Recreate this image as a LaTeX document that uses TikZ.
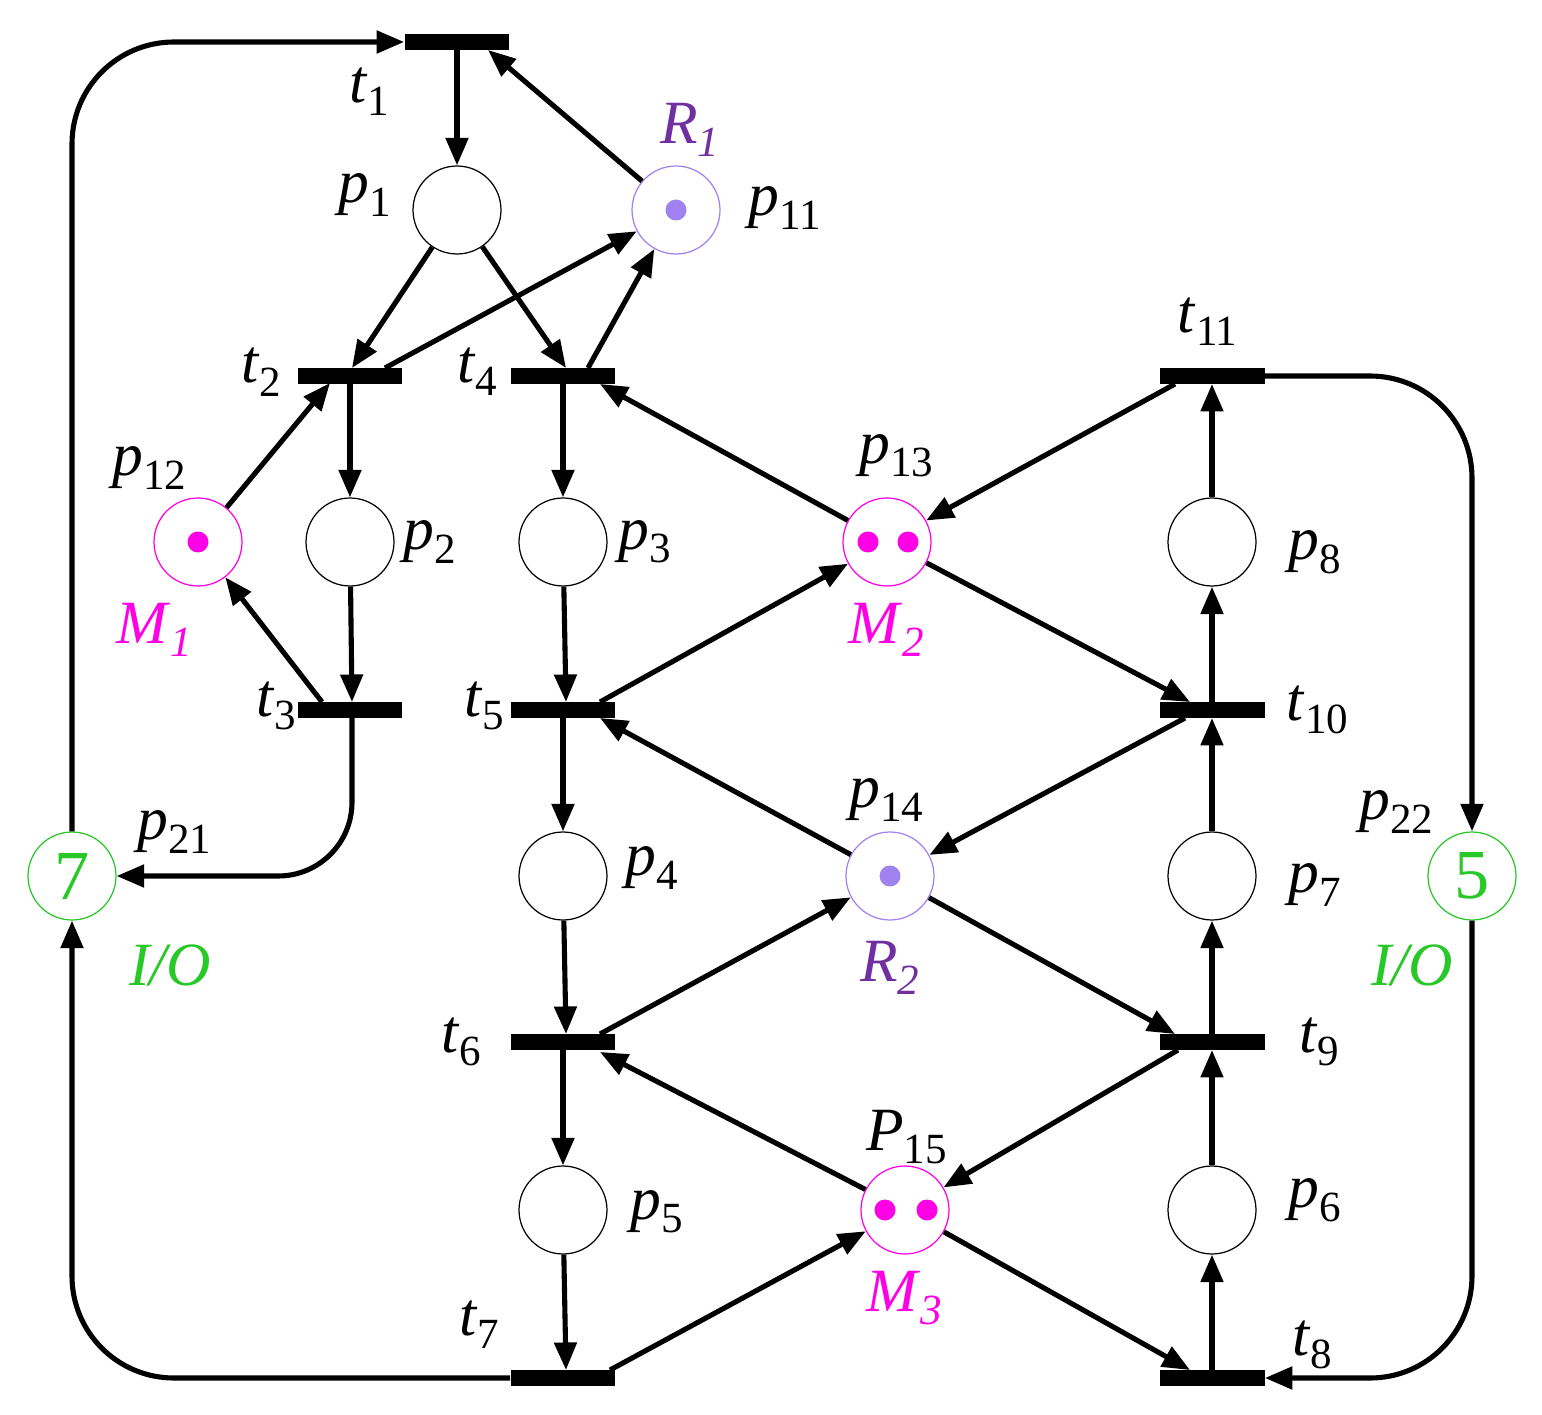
\documentclass[tikz,border=0pt]{standalone}
\usepackage{fontspec}
\setmainfont{Liberation Serif}
\usetikzlibrary{arrows.meta}
\definecolor{mag}{RGB}{255,0,230}
\definecolor{pur}{RGB}{112,48,160}
\definecolor{lpur}{RGB}{160,130,240}
\definecolor{grn}{RGB}{40,200,40}
\newcommand{\lb}[2]{\textit{#1}\textsubscript{\upshape #2}}
\begin{document}
\begin{tikzpicture}[x=0.02cm,y=-0.02cm,
 pl/.style={circle,draw,minimum size=1.76cm,inner sep=0pt,line width=0.7pt},
 tr/.style={rectangle,fill=black,minimum width=2.1cm,minimum height=0.32cm,inner sep=0pt},
 arc/.style={line width=2.9pt,-{Triangle[length=0.55cm,width=0.44cm]}},
 tok/.style={circle,fill,inner sep=0pt,minimum size=0.42cm},
 lab/.style={font=\fontsize{35}{37}\selectfont,inner sep=0pt}]
\useasboundingbox (0,0) rectangle (1542,1415);
% places
\node[pl] (p1) at (457,210) {};
\node[pl,draw=lpur] (p11) at (676,210) {};
\node[tok,lpur] at (676,210) {};
\node[pl,draw=mag] (p12) at (198,542) {};
\node[tok,mag] at (198,542) {};
\node[pl] (p2) at (350,542) {};
\node[pl] (p3) at (563,542) {};
\node[pl,draw=mag] (p13) at (887,542) {};
\node[tok,mag] at (868,542) {}; \node[tok,mag] at (908,542) {};
\node[pl] (p8) at (1212,542) {};
\node[pl,draw=grn,text=grn,font=\fontsize{40}{42}\selectfont] (p21) at (72,876) {7};
\node[pl] (p4) at (563,876) {};
\node[pl,draw=lpur] (p14) at (890,876) {};
\node[tok,lpur] at (890,876) {};
\node[pl] (p7) at (1212,876) {};
\node[pl,draw=grn,text=grn,font=\fontsize{40}{42}\selectfont] (p22) at (1472,876) {5};
\node[pl] (p5) at (563,1210) {};
\node[pl,draw=mag] (p15) at (905,1210) {};
\node[tok,mag] at (885,1210) {}; \node[tok,mag] at (927,1210) {};
\node[pl] (p6) at (1212,1210) {};
% transitions
\node[tr] (t1) at (457,42) {};
\node[tr] (t2) at (350,376) {};
\node[tr] (t4) at (563,376) {};
\node[tr] (t11) at (1212,376) {};
\node[tr] (t3) at (350,710) {};
\node[tr] (t5) at (563,710) {};
\node[tr] (t10) at (1212,710) {};
\node[tr] (t6) at (563,1042) {};
\node[tr] (t9) at (1212,1042) {};
\node[tr] (t7) at (563,1378) {};
\node[tr] (t8) at (1212,1378) {};
% arcs
\draw[arc] (t1) -- (p1);
\draw[arc] (p11) -- (488,50);
\draw[arc] (p1) -- (352,368);
\draw[arc] (p1) -- (566,368);
\draw[arc] (385,368) -- (p11);
\draw[arc] (588,368) -- (p11);
\draw[arc] (t2) -- (p2);
\draw[arc] (p12) -- (330,383);
\draw[arc] (322,702) -- (p12);
\draw[arc] (p2) -- (352,702);
\draw[arc,rounded corners=42pt] (352,718) -- (352,876) -- (p21.east);
\draw[arc,rounded corners=58pt] (p21.north) -- (72,42) -- (t1.west);
\draw[arc,rounded corners=58pt] (t7.west) -- (72,1378) -- (p21.south);
\draw[arc] (t4) -- (p3);
\draw[arc] (p3) -- (566,702);
\draw[arc] (t5) -- (p4);
\draw[arc] (p4) -- (566,1034);
\draw[arc] (t6) -- (p5);
\draw[arc] (p5) -- (566,1370);
\draw[arc] (p13) -- (600,384);
\draw[arc] (600,702) -- (p13);
\draw[arc] (p13) -- (1190,702);
\draw[arc] (1185,718) -- (p14);
\draw[arc] (p14) -- (600,718);
\draw[arc] (600,1034) -- (p14);
\draw[arc] (p14) -- (1175,1034);
\draw[arc] (1178,1050) -- (p15);
\draw[arc] (p15) -- (600,1052);
\draw[arc] (610,1370) -- (p15);
\draw[arc] (p15) -- (1190,1370);
\draw[arc] (1175,384) -- (p13);
\draw[arc] (p8) -- (1212,384);
\draw[arc] (1212,702) -- (p8);
\draw[arc] (p7) -- (1212,718);
\draw[arc] (1212,1034) -- (p7);
\draw[arc] (p6) -- (1212,1050);
\draw[arc] (1212,1370) -- (p6);
\draw[arc,rounded corners=58pt] (t11.east) -- (1472,376) -- (p22.north);
\draw[arc,rounded corners=58pt] (p22.south) -- (1472,1378) -- (t8.east);
% labels
\node[lab] at (370,92) {\lb{t}{1}};
\node[lab] at (365,195) {\lb{p}{1}};
\node[lab,text=pur] at (690,130) {\textit{R}\textsubscript{\textit{1}}};
\node[lab] at (785,208) {\lb{p}{11}};
\node[lab] at (262,372) {\lb{t}{2}};
\node[lab] at (478,372) {\lb{t}{4}};
\node[lab] at (1208,322) {\lb{t}{11}};
\node[lab] at (150,468) {\lb{p}{12}};
\node[lab] at (430,542) {\lb{p}{2}};
\node[lab] at (645,542) {\lb{p}{3}};
\node[lab] at (897,456) {\lb{p}{13}};
\node[lab] at (1315,552) {\lb{p}{8}};
\node[lab,text=mag] at (155,630) {\textit{M}\textsubscript{\textit{1}}};
\node[lab,text=mag] at (887,630) {\textit{M}\textsubscript{\textit{2}}};
\node[lab] at (277,706) {\lb{t}{3}};
\node[lab] at (485,706) {\lb{t}{5}};
\node[lab] at (1318,710) {\lb{t}{10}};
\node[lab] at (175,832) {\lb{p}{21}};
\node[lab] at (652,868) {\lb{p}{4}};
\node[lab] at (887,800) {\lb{p}{14}};
\node[lab] at (1315,885) {\lb{p}{7}};
\node[lab] at (1397,812) {\lb{p}{22}};
\node[lab,text=grn] at (170,965) {\textit{I/O}};
\node[lab,text=grn] at (1412,965) {\textit{I/O}};
\node[lab,text=pur] at (890,968) {\textit{R}\textsubscript{\textit{2}}};
\node[lab] at (462,1042) {\lb{t}{6}};
\node[lab] at (1320,1042) {\lb{t}{9}};
\node[lab] at (907,1137) {\lb{P}{15}};
\node[lab] at (657,1212) {\lb{p}{5}};
\node[lab] at (1315,1200) {\lb{p}{6}};
\node[lab,text=mag] at (905,1298) {\textit{M}\textsubscript{\textit{3}}};
\node[lab] at (480,1325) {\lb{t}{7}};
\node[lab] at (1313,1345) {\lb{t}{8}};
\end{tikzpicture}
\end{document}
